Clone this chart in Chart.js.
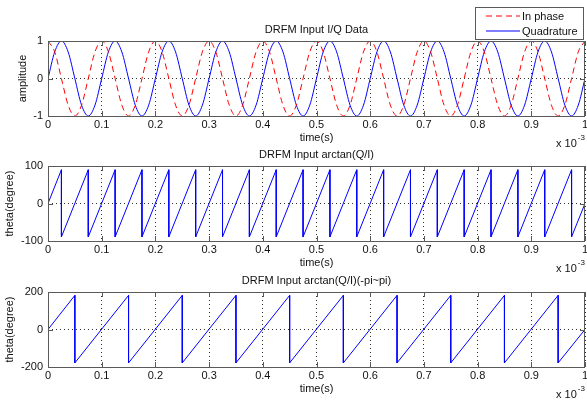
<!DOCTYPE html>
<html>
<head>
<meta charset="utf-8">
<script src="https://cdn.jsdelivr.net/npm/chart.js@4.4.0/dist/chart.umd.min.js"></script>
<style>
  body { margin: 0; background: #fff; }
  #fig { position: relative; width: 587px; height: 402px; overflow: hidden; background: #fff; }
  #fig canvas { position: absolute; left: 0; }
</style>
</head>
<body>
<div id="fig">
  <canvas id="chart1" width="587" height="150" style="top:0px"></canvas>
  <canvas id="chart2" width="587" height="130" style="top:146px"></canvas>
  <canvas id="chart3" width="587" height="130" style="top:272px"></canvas>
</div>
<script>
// ---- dados (tempo em ms, eixo mostra x 10^-3 s) ----
const tempoIQ = [
  0, 0.0125, 0.025, 0.0375, 0.05, 0.0625, 0.075, 0.0875,
  0.1, 0.1125, 0.125, 0.1375, 0.15, 0.1625, 0.175, 0.1875,
  0.2, 0.2125, 0.225, 0.2375, 0.25, 0.2625, 0.275, 0.2875,
  0.3, 0.3125, 0.325, 0.3375, 0.35, 0.3625, 0.375, 0.3875,
  0.4, 0.4125, 0.425, 0.4375, 0.45, 0.4625, 0.475, 0.4875,
  0.5, 0.5125, 0.525, 0.5375, 0.55, 0.5625, 0.575, 0.5875,
  0.6, 0.6125, 0.625, 0.6375, 0.65, 0.6625, 0.675, 0.6875,
  0.7, 0.7125, 0.725, 0.7375, 0.75, 0.7625, 0.775, 0.7875,
  0.8, 0.8125, 0.825, 0.8375, 0.85, 0.8625, 0.875, 0.8875,
  0.9, 0.9125, 0.925, 0.9375, 0.95, 0.9625, 0.975, 0.9875,
  1
];
const inPhase = [
  1, 0.71, 0, -0.71, -1, -0.71, 0, 0.71,
  1, 0.71, 0, -0.71, -1, -0.71, 0, 0.71,
  1, 0.71, 0, -0.71, -1, -0.71, 0, 0.71,
  1, 0.71, 0, -0.71, -1, -0.71, 0, 0.71,
  1, 0.71, 0, -0.71, -1, -0.71, 0, 0.71,
  1, 0.71, 0, -0.71, -1, -0.71, 0, 0.71,
  1, 0.71, 0, -0.71, -1, -0.71, 0, 0.71,
  1, 0.71, 0, -0.71, -1, -0.71, 0, 0.71,
  1, 0.71, 0, -0.71, -1, -0.71, 0, 0.71,
  1, 0.71, 0, -0.71, -1, -0.71, 0, 0.71,
  1
];
const quadrature = [
  0, 0.71, 1, 0.71, 0, -0.71, -1, -0.71,
  0, 0.71, 1, 0.71, 0, -0.71, -1, -0.71,
  0, 0.71, 1, 0.71, 0, -0.71, -1, -0.71,
  0, 0.71, 1, 0.71, 0, -0.71, -1, -0.71,
  0, 0.71, 1, 0.71, 0, -0.71, -1, -0.71,
  0, 0.71, 1, 0.71, 0, -0.71, -1, -0.71,
  0, 0.71, 1, 0.71, 0, -0.71, -1, -0.71,
  0, 0.71, 1, 0.71, 0, -0.71, -1, -0.71,
  0, 0.71, 1, 0.71, 0, -0.71, -1, -0.71,
  0, 0.71, 1, 0.71, 0, -0.71, -1, -0.71,
  0
];

// arctan(Q/I): rampas de -90 a 90, saltos a cada 0.05
const tempoAtan = [
  0, 0.025, 0.025, 0.075, 0.075, 0.125, 0.125, 0.175, 0.175,
  0.225, 0.225, 0.275, 0.275, 0.325, 0.325, 0.375, 0.375,
  0.425, 0.425, 0.475, 0.475, 0.525, 0.525, 0.575, 0.575,
  0.625, 0.625, 0.675, 0.675, 0.725, 0.725, 0.775, 0.775,
  0.825, 0.825, 0.875, 0.875, 0.925, 0.925, 0.975, 0.975, 1
];
const atanGraus = [
  0, 90, -89, 90, -89, 90, -89, 90, -89,
  90, -89, 90, -89, 90, -89, 90, -89,
  90, -89, 90, -89, 90, -89, 90, -89,
  90, -89, 90, -89, 90, -89, 90, -89,
  90, -89, 90, -89, 90, -89, 90, -89, 0
];

// arctan(Q/I) em (-pi, pi): rampas de -180 a 180, saltos a cada 0.1
const tempoAtan2 = [
  0, 0.05, 0.05, 0.15, 0.15, 0.25, 0.25, 0.35, 0.35, 0.45, 0.45,
  0.55, 0.55, 0.65, 0.65, 0.75, 0.75, 0.85, 0.85, 0.95, 0.95, 1
];
const atan2Graus = [
  0, 182, -178, 182, -178, 182, -178, 182, -178, 182, -178,
  182, -178, 182, -178, 182, -178, 182, -178, 182, -178, 0
];

const xTicks = { min: 0, max: 1, step: 0.1 };

const cores = {
  azul: "#0000ff",
  vermelho: "#ff0000",
  caixa: "#5a5a5a",
  texto: "#111111",
  grade: "#333333"
};
const fonte = { family: "'Liberation Sans', Arial, sans-serif", size: 11 };

// itens da legenda do primeiro grafico
const legendaItens = [
  { label: "In phase", cor: cores.vermelho, dash: [6, 4] },
  { label: "Quadrature", cor: cores.azul, dash: [] }
];

function pontos(xs, ys) {
  return xs.map((x, i) => ({ x: x, y: ys[i] }));
}

// moldura estilo MATLAB: caixa, ticks para dentro, titulo, expoente e legenda
const molduraMatlab = {
  id: "molduraMatlab",
  afterDraw(chart, args, opts) {
    const { ctx, chartArea: a, scales } = chart;
    ctx.save();

    // ticks para dentro
    ctx.strokeStyle = cores.caixa;
    ctx.lineWidth = 1;
    ctx.beginPath();
    scales.x.ticks.forEach(t => {
      const px = Math.round(scales.x.getPixelForValue(t.value)) + 0.5;
      ctx.moveTo(px, a.bottom); ctx.lineTo(px, a.bottom - 5);
      ctx.moveTo(px, a.top); ctx.lineTo(px, a.top + 5);
    });
    scales.y.ticks.forEach(t => {
      const py = Math.round(scales.y.getPixelForValue(t.value)) + 0.5;
      ctx.moveTo(a.left, py); ctx.lineTo(a.left + 5, py);
      ctx.moveTo(a.right, py); ctx.lineTo(a.right - 5, py);
    });
    ctx.stroke();

    // caixa
    ctx.strokeRect(a.left + 0.5, a.top + 0.5, a.right - a.left - 1, a.bottom - a.top);

    // titulo
    ctx.fillStyle = cores.texto;
    ctx.font = fonte.size + "px " + fonte.family;
    ctx.textAlign = "center";
    ctx.textBaseline = "middle";
    ctx.fillText(opts.titulo, (a.left + a.right) / 2, a.top - 11);

    // x 10^-3
    ctx.textAlign = "left";
    const base = "x 10";
    ctx.fillText(base, 556, a.bottom + 28);
    const w = ctx.measureText(base).width;
    ctx.font = "8px " + fonte.family;
    ctx.fillText("-3", 556 + w + 1, a.bottom + 22);

    // legenda (so no primeiro)
    if (opts.legenda) {
      ctx.fillStyle = "#ffffff";
      ctx.fillRect(475.5, 7.5, 108, 32);
      ctx.strokeStyle = cores.caixa;
      ctx.strokeRect(475.5, 7.5, 108, 32);
      ctx.font = fonte.size + "px " + fonte.family;
      legendaItens.forEach((item, i) => {
        const y = 16 + i * 15;
        ctx.strokeStyle = item.cor;
        ctx.lineWidth = 1;
        ctx.setLineDash(item.dash);
        ctx.beginPath();
        ctx.moveTo(486, y);
        ctx.lineTo(520, y);
        ctx.stroke();
        ctx.setLineDash([]);
        ctx.fillStyle = cores.texto;
        ctx.fillText(item.label, 522, y + 0.5);
      });
    }
    ctx.restore();
  }
};

function criarSubplot(id, cfg) {
  const ctx = document.getElementById(id).getContext("2d");
  return new Chart(ctx, {
    type: "line",
    data: { datasets: cfg.datasets },
    options: {
      responsive: false,
      animation: false,
      layout: { padding: { top: cfg.padTopo, bottom: cfg.padBase, left: 0, right: 0 } },
      elements: { point: { radius: 0 } },
      plugins: {
        legend: { display: false },
        tooltip: { enabled: false },
        molduraMatlab: { titulo: cfg.titulo, legenda: cfg.legenda }
      },
      scales: {
        x: {
          type: "linear",
          min: xTicks.min,
          max: xTicks.max,
          ticks: {
            stepSize: xTicks.step,
            color: cores.texto,
            font: fonte,
            padding: 2,
            maxRotation: 0,
            callback: v => String(Math.round(v * 10) / 10)
          },
          grid: { color: cores.grade, lineWidth: 1, drawTicks: false },
          border: { display: false, dash: [1, 3] },
          title: { display: true, text: "time(s)", color: cores.texto, font: fonte, padding: { top: 0, bottom: 1 } },
          afterFit: s => { s.height = 30; s.paddingRight = 2; }
        },
        y: {
          min: cfg.yMin,
          max: cfg.yMax,
          ticks: { stepSize: cfg.yStep, color: cores.texto, font: fonte, padding: 5 },
          grid: { color: cores.grade, lineWidth: 1, drawTicks: false },
          border: { display: false, dash: [1, 3] },
          title: { display: true, text: cfg.yTitulo, color: cores.texto, font: fonte, padding: { top: cfg.yTitPad, bottom: 0 } },
          afterFit: s => { s.width = 48; }
        }
      }
    },
    plugins: [molduraMatlab]
  });
}

criarSubplot("chart1", {
  titulo: "DRFM Input I/Q Data",
  legenda: true,
  padTopo: 41, padBase: 4,
  yMin: -1, yMax: 1, yStep: 1,
  yTitulo: "amplitude", yTitPad: 16,
  datasets: [
    {
      label: "In phase",
      data: pontos(tempoIQ, inPhase),
      borderColor: cores.vermelho,
      borderWidth: 1,
      borderDash: [6, 4],
      cubicInterpolationMode: "monotone"
    },
    {
      label: "Quadrature",
      data: pontos(tempoIQ, quadrature),
      borderColor: cores.azul,
      borderWidth: 1,
      cubicInterpolationMode: "monotone"
    }
  ]
});

criarSubplot("chart2", {
  titulo: "DRFM Input arctan(Q/I)",
  padTopo: 20, padBase: 5,
  yMin: -100, yMax: 100, yStep: 100,
  yTitulo: "theta(degree)", yTitPad: 3,
  datasets: [{
    label: "arctan",
    data: pontos(tempoAtan, atanGraus),
    borderColor: cores.azul,
    borderWidth: 1,
    tension: 0
  }]
});

criarSubplot("chart3", {
  titulo: "DRFM Input arctan(Q/I)(-pi~pi)",
  padTopo: 20, padBase: 5,
  yMin: -200, yMax: 200, yStep: 200,
  yTitulo: "theta(degree)", yTitPad: 3,
  datasets: [{
    label: "arctan2",
    data: pontos(tempoAtan2, atan2Graus),
    borderColor: cores.azul,
    borderWidth: 1,
    tension: 0
  }]
});
</script>
</body>
</html>
